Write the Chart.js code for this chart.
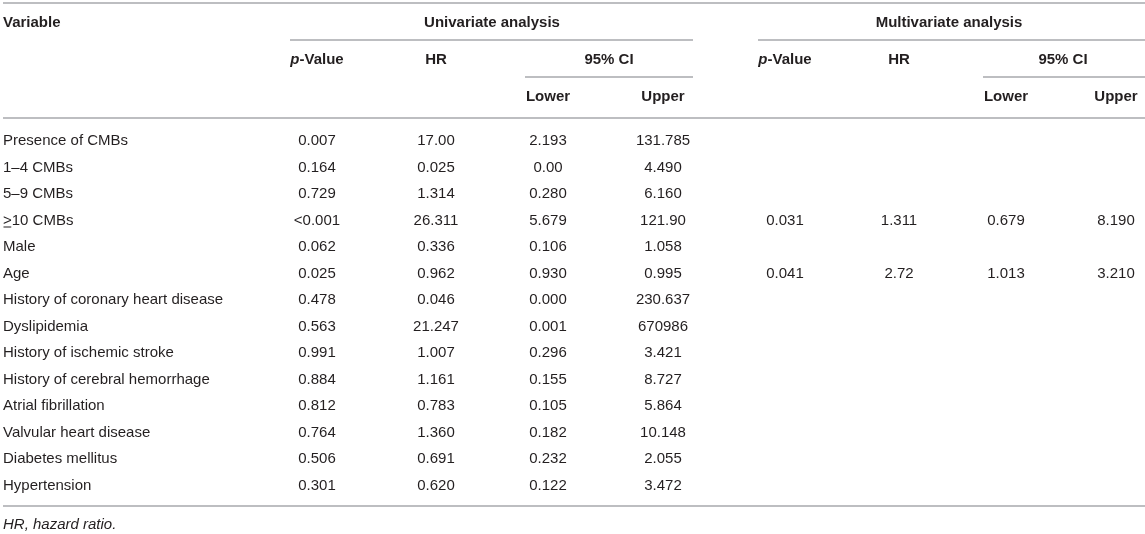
<!DOCTYPE html>
<html>
<head>
<meta charset="utf-8">
<script src="https://cdn.jsdelivr.net/npm/chart.js@4/dist/chart.umd.min.js"></script>
<style>
  html, body { margin: 0; padding: 0; background: #fff; }
  #wrap { width: 1145px; height: 534px; }
</style>
</head>
<body>
<div id="wrap"><canvas id="tbl" width="1145" height="534"></canvas></div>
<script>
// table data
var variables = [
  "Presence of CMBs", "1\u20134 CMBs", "5\u20139 CMBs", "\u226510 CMBs", "Male", "Age",
  "History of coronary heart disease", "Dyslipidemia", "History of ischemic stroke",
  "History of cerebral hemorrhage", "Atrial fibrillation", "Valvular heart disease",
  "Diabetes mellitus", "Hypertension"
];
var uniP     = ["0.007", "0.164", "0.729", "<0.001", "0.062", "0.025", "0.478", "0.563", "0.991", "0.884", "0.812", "0.764", "0.506", "0.301"];
var uniHR    = ["17.00", "0.025", "1.314", "26.311", "0.336", "0.962", "0.046", "21.247", "1.007", "1.161", "0.783", "1.360", "0.691", "0.620"];
var uniLower = ["2.193", "0.00", "0.280", "5.679", "0.106", "0.930", "0.000", "0.001", "0.296", "0.155", "0.105", "0.182", "0.232", "0.122"];
var uniUpper = ["131.785", "4.490", "6.160", "121.90", "1.058", "0.995", "230.637", "670986", "3.421", "8.727", "5.864", "10.148", "2.055", "3.472"];
var multiP     = ["", "", "", "0.031", "", "0.041", "", "", "", "", "", "", "", ""];
var multiHR    = ["", "", "", "1.311", "", "2.72", "", "", "", "", "", "", "", ""];
var multiLower = ["", "", "", "0.679", "", "1.013", "", "", "", "", "", "", "", ""];
var multiUpper = ["", "", "", "8.190", "", "3.210", "", "", "", "", "", "", "", ""];
var footnote = "HR, hazard ratio.";

// layout
var W = 1145, H = 534;
var ROW0 = 141, ROWH = 26.5;
var COL_X = [3, 317, 436, 548, 663, 785, 899, 1006, 1116];
var columns = [variables, uniP, uniHR, uniLower, uniUpper, multiP, multiHR, multiLower, multiUpper];
var FONT = '"Liberation Sans", Arial, Helvetica, sans-serif';
var TEXT = '#231f20';
var RULE = '#a7a9ac';

var datasets = columns.map(function(col, c) {
  return {
    data: col.map(function(v, i) { return { x: COL_X[c], y: i }; }),
    pointRadius: 0,
    showLine: false
  };
});

var tablePlugin = {
  id: 'tablePlugin',
  afterDraw: function(chart) {
    var ctx = chart.ctx;
    var xs = chart.scales.x;
    ctx.save();
    ctx.textBaseline = 'middle';

    function rule(x1, x2, y) {
      ctx.strokeStyle = RULE;
      ctx.lineWidth = 1.5;
      ctx.beginPath();
      ctx.moveTo(x1, y);
      ctx.lineTo(x2, y);
      ctx.stroke();
    }
    function bold(t, x, y, align) {
      ctx.font = 'bold 15px ' + FONT;
      ctx.fillStyle = TEXT;
      ctx.textAlign = align || 'center';
      ctx.fillText(t, x, y);
    }
    function pValueHead(cx, y) {
      ctx.fillStyle = TEXT;
      ctx.textAlign = 'left';
      ctx.font = 'italic bold 15px ' + FONT;
      var w1 = ctx.measureText('p').width;
      ctx.font = 'bold 15px ' + FONT;
      var w2 = ctx.measureText('-Value').width;
      var x0 = cx - (w1 + w2) / 2;
      ctx.font = 'italic bold 15px ' + FONT;
      ctx.fillText('p', x0, y);
      ctx.font = 'bold 15px ' + FONT;
      ctx.fillText('-Value', x0 + w1, y);
    }

    // rules
    rule(3, W, 3);
    rule(290, 693, 40);
    rule(758, W, 40);
    rule(525, 693, 77);
    rule(983, W, 77);
    rule(3, W, 118);
    rule(3, W, 506);

    // headers
    bold('Variable', 3, 23, 'left');
    bold('Univariate analysis', 492, 23);
    bold('Multivariate analysis', 949, 23);
    pValueHead(xs.getPixelForValue(COL_X[1]), 60);
    bold('HR', xs.getPixelForValue(COL_X[2]), 60);
    bold('95% CI', 609, 60);
    bold('Lower', xs.getPixelForValue(COL_X[3]), 97);
    bold('Upper', xs.getPixelForValue(COL_X[4]), 97);
    pValueHead(xs.getPixelForValue(COL_X[5]), 60);
    bold('HR', xs.getPixelForValue(COL_X[6]), 60);
    bold('95% CI', 1063, 60);
    bold('Lower', xs.getPixelForValue(COL_X[7]), 97);
    bold('Upper', xs.getPixelForValue(COL_X[8]), 97);

    // body cells at the dataset points
    ctx.font = '15px ' + FONT;
    ctx.fillStyle = TEXT;
    chart.data.datasets.forEach(function(ds, c) {
      var meta = chart.getDatasetMeta(c);
      ctx.textAlign = c === 0 ? 'left' : 'center';
      meta.data.forEach(function(pt, i) {
        var t = columns[c][i];
        if (!t) return;
        if (t.charAt(0) === '\u2265') {
          // underlined > as in the source
          ctx.fillText('>', pt.x, pt.y);
          var gw = ctx.measureText('>').width;
          ctx.fillRect(pt.x + 0.5, pt.y + 6, gw - 1, 1);
          ctx.fillText(t.slice(1), pt.x + gw, pt.y);
        } else {
          ctx.fillText(t, pt.x, pt.y);
        }
      });
    });

    // footnote
    ctx.font = 'italic 15px ' + FONT;
    ctx.textAlign = 'left';
    ctx.fillText(footnote, 3, 525);
    ctx.restore();
  }
};

var yMin = -ROW0 / ROWH;
var yMax = yMin + H / ROWH;

new Chart(document.getElementById('tbl'), {
  type: 'scatter',
  data: { datasets: datasets },
  options: {
    responsive: false,
    animation: false,
    layout: { padding: 0 },
    plugins: { legend: { display: false }, tooltip: { enabled: false } },
    scales: {
      x: { type: 'linear', display: false, min: 0, max: W },
      y: { type: 'linear', display: false, reverse: true, min: yMin, max: yMax }
    }
  },
  plugins: [tablePlugin]
});
</script>
</body>
</html>
